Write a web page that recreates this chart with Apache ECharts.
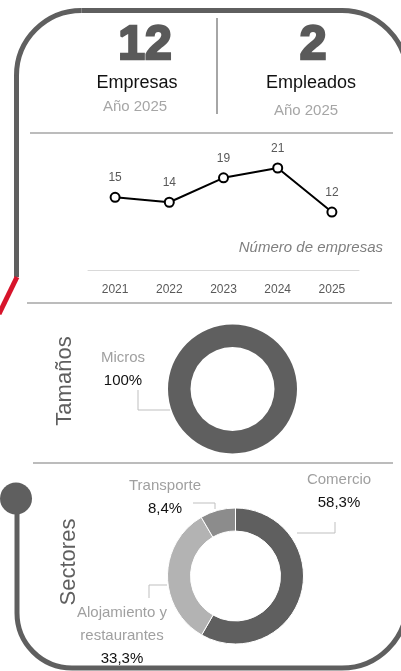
<!DOCTYPE html>
<html>
<head>
<meta charset="utf-8">
<script src="https://cdn.jsdelivr.net/npm/echarts@6/dist/echarts.min.js"></script>
<style>
html,body{margin:0;padding:0;background:#fff;}
#chart{width:401px;height:671px;}
</style>
</head>
<body>
<div id="chart"></div>
<script>
// ---- data ----
var years = ['2021', '2022', '2023', '2024', '2025'];
var empresasPorAno = [15, 14, 19, 21, 12];
var tamanosNames = ['Micros'];
var tamanosValues = [100];
var sectoresNames = ['Comercio', 'Alojamiento y restaurantes', 'Transporte'];
var sectoresValues = [58.3, 33.3, 8.4];
var kpiEmpresas = '12';
var kpiEmpleados = '2';
var kpiYear = 'Año 2025';

var FONT = '"Liberation Sans", Arial, sans-serif';
var frameColor = '#5f5f5f';
var ruleColor = '#a6a6a6';

function fmtPct(v) {
  var s = (Math.round(v * 10) / 10).toString().replace('.', ',');
  return s + '%';
}
function pieLabel(p) {
  var name = p.name.replace('Alojamiento y ', 'Alojamiento y\n');
  var lines = name.split('\n').map(function (l) { return '{n|' + l + '}'; });
  lines.push('{v|' + fmtPct(p.value) + '}');
  return lines.join('\n');
}
var pieRich = {
  n: {fontFamily: FONT, fontSize: 15, color: '#a0a0a0', lineHeight: 23},
  v: {fontFamily: FONT, fontSize: 15, color: '#111', lineHeight: 23}
};

// label placements (layout only)
var tamLayout = [{x: 123, y: 369, line: [[170, 410], [138, 410], [138, 390]]}];
var secLayout = [
  {x: 339, y: 491, line: [[297, 533], [335, 533], [335, 522]]},
  {x: 122, y: 636, line: [[167, 585], [149, 585], [149, 598]]},
  {x: 165, y: 497, line: [[215, 509], [215, 503], [193, 503]]}
];
function layoutFrom(arr) {
  return function (params) {
    var L = arr[params.dataIndex];
    return {x: L.x, y: L.y, align: 'center', verticalAlign: 'middle', labelLinePoints: L.line};
  };
}

function seg(x1, y1, x2, y2, col, w) {
  return {type: 'line', shape: {x1: x1, y1: y1, x2: x2, y2: y2}, style: {stroke: col, lineWidth: w}};
}
function arc(cx, cy, r, a0, a1) {
  return {type: 'arc', shape: {cx: cx, cy: cy, r: r, startAngle: a0, endAngle: a1, clockwise: true}, style: {stroke: frameColor, lineWidth: 5, fill: null}};
}
var PI = Math.PI;

var chart = echarts.init(document.getElementById('chart'), null, {renderer: 'canvas'});

var pieLabelOpt = {show: true, formatter: pieLabel, rich: pieRich, overflow: 'none', width: 200};

var option = {
  animation: false,
  backgroundColor: '#fff',
  grid: {left: 88, width: 271, top: 124, bottom: 400.3, containLabel: false},
  xAxis: {
    type: 'category',
    data: years,
    boundaryGap: true,
    axisLine: {show: true, lineStyle: {color: '#d9d9d9', width: 1}},
    axisTick: {show: false},
    axisLabel: {color: '#595959', fontSize: 12, fontFamily: FONT, margin: 13}
  },
  yAxis: {type: 'value', min: 0, max: 30, show: false, splitLine: {show: false}},
  series: [
    {
      type: 'line',
      data: empresasPorAno,
      symbol: 'circle',
      symbolSize: 9,
      lineStyle: {color: '#000', width: 2},
      itemStyle: {color: '#fff', borderColor: '#000', borderWidth: 2},
      label: {show: true, position: 'top', distance: 8, color: '#595959', fontSize: 12, fontFamily: FONT},
      z: 5
    },
    {
      type: 'pie',
      center: [232.5, 389],
      radius: [42, 64.5],
      startAngle: 90,
      avoidLabelOverlap: false,
      data: tamanosNames.map(function (n, i) { return {name: n, value: tamanosValues[i]}; }),
      itemStyle: {color: '#5f5f5f'},
      label: pieLabelOpt,
      labelLine: {show: true, lineStyle: {color: '#bfbfbf', width: 1}},
      labelLayout: layoutFrom(tamLayout),
      emphasis: {disabled: true}
    },
    {
      type: 'pie',
      center: [235.5, 576],
      radius: [45, 68],
      startAngle: 90,
      clockwise: true,
      avoidLabelOverlap: false,
      data: sectoresNames.map(function (n, i) { return {name: n, value: sectoresValues[i]}; }),
      color: ['#5f5f5f', '#b3b3b3', '#8c8c8c'],
      itemStyle: {borderColor: '#fff', borderWidth: 1},
      label: pieLabelOpt,
      labelLine: {show: true, lineStyle: {color: '#bfbfbf', width: 1}},
      labelLayout: layoutFrom(secLayout),
      emphasis: {disabled: true}
    }
  ],
  graphic: [
    // frame
    seg(16.5, 277, 16.5, 75, frameColor, 5),
    arc(81.5, 75.5, 65, PI, 1.5 * PI),
    seg(81.5, 10.5, 342, 10.5, frameColor, 5),
    arc(342, 75.5, 65, 1.5 * PI, 2 * PI),
    seg(407, 75.5, 407, 603, frameColor, 5),
    arc(342, 603, 65, 0, 0.5 * PI),
    seg(342, 668, 72, 668, frameColor, 5),
    arc(72, 613, 55, 0.5 * PI, PI),
    seg(17, 613, 17, 499, frameColor, 5),
    seg(17, 277, -1, 314, '#d7142b', 5),
    {type: 'circle', shape: {cx: 16, cy: 498.5, r: 16}, style: {fill: frameColor}},
    // rules
    seg(217, 18, 217, 114, ruleColor, 2),
    seg(30, 133, 393, 133, ruleColor, 1.5),
    seg(27, 303, 392, 303, ruleColor, 1.5),
    seg(33, 463, 393, 463, ruleColor, 1.5),
    // KPIs
    {type: 'text', x: 145, y: 46, style: {text: kpiEmpresas, align: 'center', verticalAlign: 'middle', fontFamily: FONT, fontWeight: 900, fontSize: 48, fill: '#5a5a5a', stroke: '#5a5a5a', lineWidth: 2.5}},
    {type: 'text', x: 137, y: 83, style: {text: 'Empresas', align: 'center', verticalAlign: 'middle', fontFamily: FONT, fontSize: 18, fill: '#111'}},
    {type: 'text', x: 135, y: 107, style: {text: kpiYear, align: 'center', verticalAlign: 'middle', fontFamily: FONT, fontSize: 15, fill: '#a6a6a6'}},
    {type: 'text', x: 313, y: 46, style: {text: kpiEmpleados, align: 'center', verticalAlign: 'middle', fontFamily: FONT, fontWeight: 900, fontSize: 48, fill: '#5a5a5a', stroke: '#5a5a5a', lineWidth: 2.5}},
    {type: 'text', x: 311, y: 83, style: {text: 'Empleados', align: 'center', verticalAlign: 'middle', fontFamily: FONT, fontSize: 18, fill: '#111'}},
    {type: 'text', x: 306, y: 111, style: {text: kpiYear, align: 'center', verticalAlign: 'middle', fontFamily: FONT, fontSize: 15, fill: '#a6a6a6'}},
    // line chart caption
    {type: 'text', x: 383, y: 248, style: {text: 'Número de empresas', align: 'right', verticalAlign: 'middle', fontFamily: FONT, fontStyle: 'italic', fontSize: 15, fill: '#7f7f7f'}},
    // section titles
    {type: 'text', x: 65, y: 381, rotation: PI / 2, style: {text: 'Tamaños', align: 'center', verticalAlign: 'middle', fontFamily: FONT, fontSize: 22, fill: '#5f5f5f'}},
    {type: 'text', x: 69, y: 562, rotation: PI / 2, style: {text: 'Sectores', align: 'center', verticalAlign: 'middle', fontFamily: FONT, fontSize: 22, fill: '#5f5f5f'}}
  ]
};
chart.setOption(option);
</script>
</body>
</html>
